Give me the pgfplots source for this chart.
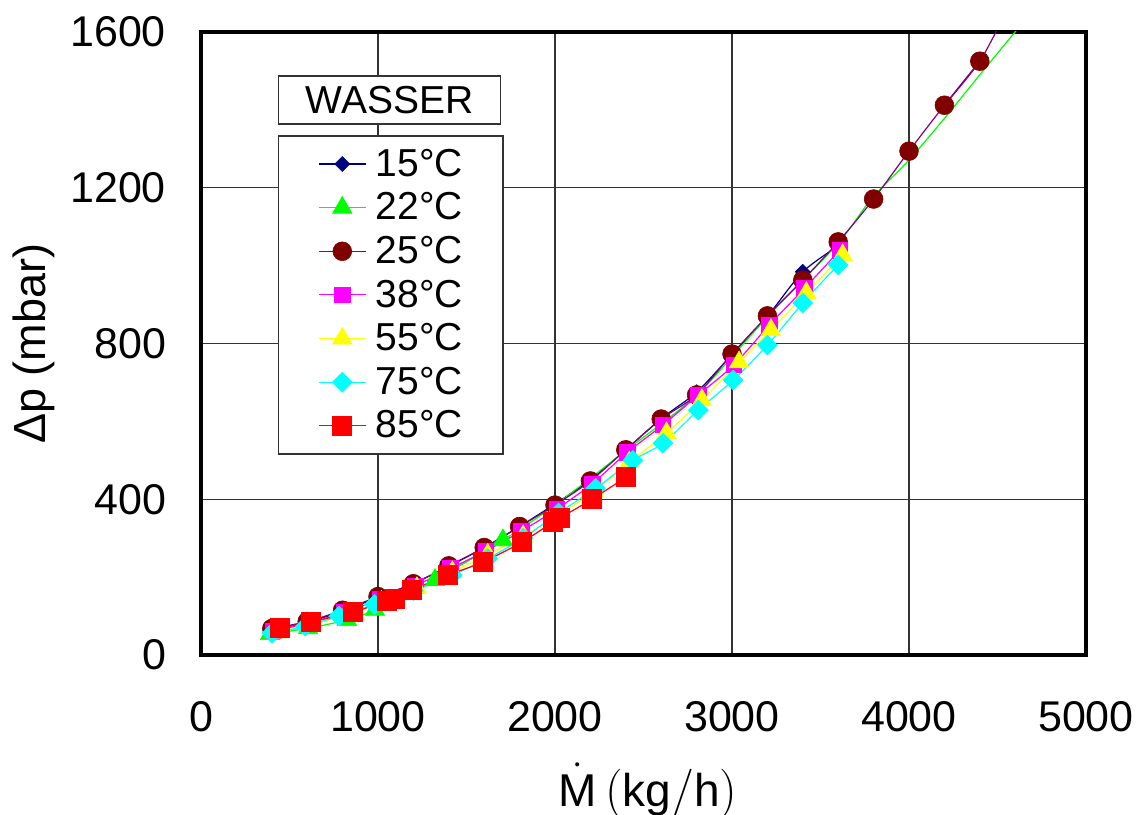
\documentclass[border=0pt]{standalone}
\usepackage{pgfplots}
\pgfplotsset{compat=1.18}
\usepackage{fontspec}
\setmainfont{Liberation Sans}
\definecolor{cNavy}{HTML}{000080}
\definecolor{cGreen}{HTML}{00FF00}
\definecolor{cDRed}{HTML}{800000}
\definecolor{cPurple}{HTML}{800080}
\definecolor{cMag}{HTML}{FF00FF}
\definecolor{cYel}{HTML}{FFFF00}
\definecolor{cCyan}{HTML}{00FFFF}
\definecolor{cRed}{HTML}{FF0000}
\begin{document}
\begin{tikzpicture}
\useasboundingbox (-100.5pt,-79.5pt) rectangle (468.5pt,327.5pt);
\begin{axis}[
  at={(0pt,0pt)}, anchor=south west,
  scale only axis, width=442.5pt, height=311.5pt,
  xmin=0, xmax=5000, ymin=0, ymax=1600,
  xtick={0,1000,...,5000}, ytick={0,400,...,1600},
  grid=major, major grid style={black!80, line width=0.7pt},
  axis line style={line width=2pt},
  major tick length=0pt,
  /pgf/number format/assume math mode=true,
  /pgf/number format/set thousands separator={},
  tick label style={font=\fontsize{21.5}{24}\selectfont},
  xticklabel style={anchor=center, yshift=-31pt},
  yticklabel style={anchor=east, xshift=-14pt},
  xlabel={$\dot{\mbox{M}}\left(\mbox{kg}/\mbox{h}\right)$},
  ylabel={Δp (mbar)},
  xlabel style={font=\fontsize{23}{26}\selectfont, at={(axis description cs:0.505,-0.2424)}, anchor=base},
  ylabel style={font=\fontsize{22.5}{26}\selectfont, at={(axis description cs:-0.1887,0.5)}, anchor=center},
  legend style={at={(axis cs:435,1335)}, anchor=north west, draw=black!80, line width=0.7pt, fill=white,
    font=\fontsize{19.5}{21}\selectfont, inner xsep=20pt, inner ysep=6.5pt, row sep=6.7pt,
    column sep=5pt, nodes={inner sep=0pt}, cells={anchor=west}},
  legend image code/.code={\draw[mark repeat=2,mark phase=2,#1] plot coordinates {(0pt,0pt)(11.5pt,0pt)(23pt,0pt)};},
]
% 15 C
\addplot[cNavy, line width=0.6pt, smooth, mark=square*, mark size=2.65pt, mark options={solid, rotate=45, fill=cNavy, draw=cNavy, line width=0.3pt}]
coordinates {(400,66)(600,84)(800,113)(1000,148)(1200,184)(1400,228)(1600,276)(1800,330)(2000,388)(2200,450)(2400,527)(2600,607)(2800,675)(3000,772)(3200,870)(3400,984)(3600,1050)};
\addlegendentry{15°C}
% 22 C
\addplot[cGreen, line width=0.6pt, smooth, mark=triangle*, mark size=5.6pt, mark options={solid, fill=cGreen, draw=cGreen, line width=0.3pt}]
coordinates {(390,54)(605,69)(825,90)(983,116)(1322,193)(1706,295)};
\addlegendentry{22°C}
\addplot[cGreen, line width=0.6pt, smooth, forget plot]
coordinates {(1322,193)(1706,295)(2000,385)(2400,525)(2800,668)(3200,868)(3600,1058)(3790,1173)(3991,1267)(4200,1378)(4400,1490)(4608,1605)(4700,1655)};
% 25 C
\addplot[cPurple, line width=0.6pt, smooth, mark=*, mark size=4.7pt, mark options={solid, fill=cDRed, draw=cDRed, line width=0.3pt}]
coordinates {(400,68)(600,86)(800,115)(1000,150)(1200,183)(1400,229)(1600,276)(1800,330)(2000,385)(2200,447)(2400,527)(2600,606)(2800,668)(3000,773)(3200,871)(3400,963)(3600,1061)(3800,1171)(4000,1294)(4200,1412)(4400,1525)};
\addlegendentry{25°C}
\addplot[cPurple, line width=0.6pt, smooth, forget plot]
coordinates {(4200,1412)(4400,1525)(4540,1645)};
% 38 C
\addplot[cMag, line width=0.6pt, smooth, mark=square*, mark size=3.9pt, mark options={solid, fill=cMag, draw=cMag, line width=0.3pt}]
coordinates {(410,62)(610,82)(810,110)(1010,143)(1210,178)(1410,222)(1610,268)(1810,318)(2010,375)(2210,440)(2410,521)(2610,591)(2810,668)(3010,745)(3210,847)(3410,942)(3610,1040)};
\addlegendentry{38°C}
% 55 C
\addplot[cYel, line width=0.6pt, smooth, mark=triangle*, mark size=5.6pt, mark options={solid, fill=cYel, draw=cYel, line width=0.3pt}]
coordinates {(420,58)(620,77)(820,104)(1020,137)(1220,172)(1420,213)(1620,258)(1820,305)(2020,360)(2220,420)(2420,495)(2630,570)(2830,655)(3040,752)(3220,835)(3420,930)(3625,1027)};
\addlegendentry{55°C}
% 75 C
\addplot[cCyan, line width=0.6pt, smooth, mark=square*, mark size=3.5pt, mark options={solid, rotate=45, fill=cCyan, draw=cCyan, line width=0.3pt}]
coordinates {(400,56)(590,74)(780,100)(980,130)(1200,165)(1420,205)(1620,248)(1820,300)(2020,365)(2230,428)(2440,500)(2610,544)(2810,629)(3006,706)(3200,796)(3400,904)(3600,1002)};
\addlegendentry{75°C}
% 85 C
\addplot[cRed, line width=0.6pt, smooth, mark=square*, mark size=4.75pt, mark options={solid, fill=cRed, draw=cRed, line width=0.3pt}]
coordinates {(446,69)(621,85)(859,110)(1051,139)(1096,144)(1192,167)(1395,205)(1593,239)(1814,290)(1989,342)(2028,352)(2209,400)(2401,457)};
\addlegendentry{85°C}
\node[draw=black!80, line width=0.7pt, fill=white, minimum width=111pt, minimum height=24pt, anchor=north west, inner sep=0pt, font=\fontsize{19.5}{21}\selectfont] at (axis cs:435,1489) {WASSER};
\end{axis}
\end{tikzpicture}
\end{document}
